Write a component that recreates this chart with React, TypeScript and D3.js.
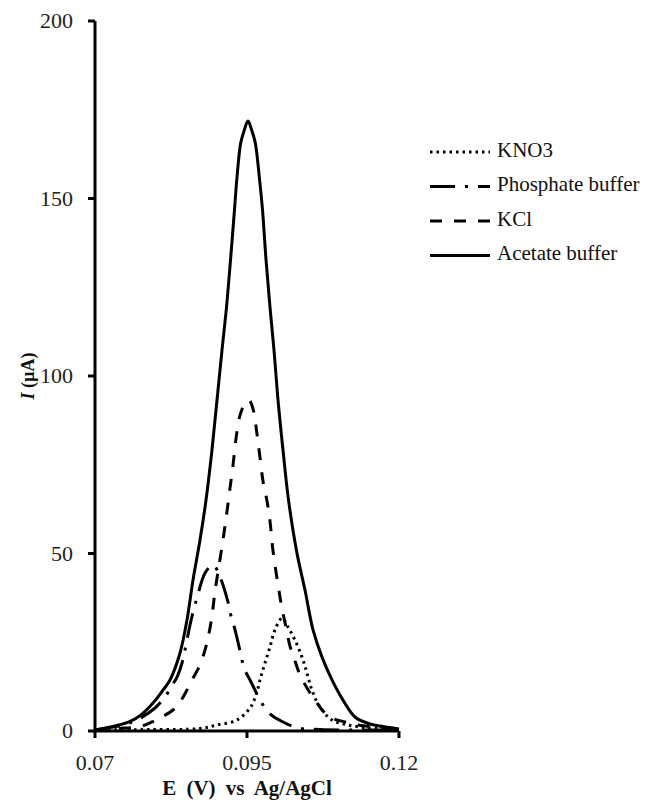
import React from 'react';
import * as d3 from 'd3';

// potential (V) and current (µA)
const kno3E = [0.07, 0.07905, 0.08727, 0.09007, 0.09336, 0.09549, 0.09648, 0.09714, 0.09796, 0.09878, 0.09961, 0.10076, 0.10174, 0.10289, 0.10405, 0.10487, 0.10569, 0.10701, 0.10898, 0.11161, 0.11523, 0.12];
const kno3I = [0.28, 0.42, 0.7, 1.69, 3.1, 6.48, 10.1, 14.4, 19.15, 23.7, 28.5, 31.8, 29.3, 25.6, 20.8, 16.3, 11.5, 6.76, 3.1, 1.69, 0.85, 0.42];

const phosE = [0.07, 0.07197, 0.07461, 0.07691, 0.07987, 0.08151, 0.0825, 0.08349, 0.08431, 0.0848, 0.08563, 0.08612, 0.08678, 0.0881, 0.08941, 0.09056, 0.09188, 0.09237, 0.09303, 0.09401, 0.09451, 0.09549, 0.09632, 0.09714, 0.09878, 0.10092, 0.10339, 0.10701, 0.11359, 0.12];
const phosI = [0.28, 0.85, 1.69, 3.1, 6.48, 9.58, 12.4, 15.2, 19.15, 22.8, 29.9, 33.5, 37.5, 44.5, 46.8, 43.4, 36.3, 32.4, 28.5, 21.4, 17.7, 14.4, 11.5, 8.7, 4.8, 2.54, 0.85, 0.42, 0.28, 0.28];

const kclE = [0.07, 0.07362, 0.0774, 0.07938, 0.08069, 0.08283, 0.08398, 0.08513, 0.08595, 0.08727, 0.08809, 0.08859, 0.08924, 0.08974, 0.09056, 0.09122, 0.09172, 0.09221, 0.0927, 0.0932, 0.09385, 0.09467, 0.09533, 0.09599, 0.09664, 0.09714, 0.09763, 0.09829, 0.09878, 0.09928, 0.10043, 0.10076, 0.10141, 0.10207, 0.10289, 0.10372, 0.10536, 0.10618, 0.1075, 0.10898, 0.11112, 0.11326, 0.11605, 0.12];
const kclI = [0.28, 0.7, 1.27, 2.54, 3.66, 5.92, 8.17, 11.55, 14.37, 18.59, 22.8, 26.2, 32.4, 39.4, 48.4, 55.8, 62.0, 68.5, 74.9, 82.5, 88.9, 92.3, 93.2, 90.7, 83.7, 77.0, 70.4, 64.8, 59.2, 50.7, 37.7, 34.4, 29.3, 23.9, 19.7, 15.8, 10.7, 8.7, 5.63, 3.66, 2.54, 1.69, 1.13, 0.56];

const acetE = [0.07, 0.07132, 0.07362, 0.07559, 0.0774, 0.07954, 0.08118, 0.08234, 0.08398, 0.08513, 0.08612, 0.08727, 0.08826, 0.08924, 0.09007, 0.09089, 0.09163, 0.09229, 0.09294, 0.09336, 0.09396, 0.09451, 0.09516, 0.09582, 0.09637, 0.09702, 0.09755, 0.09813, 0.09878, 0.09944, 0.1001, 0.10092, 0.10183, 0.10322, 0.10454, 0.10586, 0.10734, 0.10898, 0.11079, 0.11276, 0.11523, 0.11901, 0.12];
const acetI = [0.28, 0.7, 1.55, 2.6, 4.3, 7.89, 11.5, 14.37, 21.97, 31.27, 42.54, 53.8, 65.07, 79.15, 93.24, 107.3, 119.4, 132.7, 146.8, 156.1, 165.6, 169.0, 171.8, 169.0, 165.6, 156.1, 146.8, 132.7, 119.4, 107.3, 93.24, 79.15, 65.07, 50.1, 39.7, 28.5, 20.8, 14.4, 8.7, 3.94, 1.97, 0.85, 0.56];

const xTicks = [0.07, 0.095, 0.12];
const yTicks = [0, 50, 100, 150, 200];

const series = [
  { name: 'KNO3', e: kno3E, i: kno3I, dash: '2.5,4' },
  { name: 'Phosphate buffer', e: phosE, i: phosI, dash: '25,10,3,10' },
  { name: 'KCl', e: kclE, i: kclI, dash: '12,12' },
  { name: 'Acetate buffer', e: acetE, i: acetI, dash: null },
];

const serif = { fontFamily: "'Liberation Serif', 'Times New Roman', serif" };

export default function App() {
  const width = 648, height = 804;
  const x = d3.scaleLinear().domain([0.07, 0.12]).range([95, 399]);
  const y = d3.scaleLinear().domain([0, 200]).range([731, 21]);

  const line = d3.line<number[]>()
    .curve(d3.curveCatmullRom)
    .x(d => d[0])
    .y(d => d[1]);

  return (
    <svg width={width} height={height} style={{ position: 'absolute', left: 0, top: 0, background: '#fff' }}>
      {/* curves */}
      {series.map(s => {
        const pts = s.e.map((e, k) => [x(e), y(s.i[k])]);
        return (
          <path key={s.name} d={line(pts) || ''} fill="none" stroke="#000"
            strokeWidth={3} strokeDasharray={s.dash || undefined} />
        );
      })}

      {/* y axis */}
      <line x1={x(0.07)} x2={x(0.07)} y1={y(200)} y2={y(0)} stroke="#000" strokeWidth={3} />
      {yTicks.map(t => (
        <g key={t}>
          <line x1={x(0.07) - 7} x2={x(0.07)} y1={y(t)} y2={y(t)} stroke="#000" strokeWidth={3} />
          <text x={73} y={y(t) + 2} textAnchor="end" dominantBaseline="middle" fontSize={22} fill="#222" style={serif}>{t}</text>
        </g>
      ))}

      {/* x axis */}
      <line x1={x(0.07)} x2={x(0.12)} y1={y(0)} y2={y(0)} stroke="#000" strokeWidth={3} />
      {xTicks.map(t => (
        <g key={t}>
          <line x1={x(t)} x2={x(t)} y1={y(0)} y2={y(0) + 7} stroke="#000" strokeWidth={3} />
          <text x={x(t)} y={770} textAnchor="middle" fontSize={22} fill="#222" style={serif}>{t}</text>
        </g>
      ))}

      {/* axis titles */}
      <text x={x(0.095)} y={795} textAnchor="middle" fontSize={21} fontWeight="bold" wordSpacing={5} fill="#111" style={serif}>
        E (V) vs Ag/AgCl
      </text>
      <text transform={`translate(34, ${y(100)}) rotate(-90)`} textAnchor="middle" fontSize={18} fontWeight="bold" fill="#111" style={serif}>
        <tspan fontStyle="italic">I</tspan> (µA)
      </text>

      {/* legend */}
      {series.map((s, k) => {
        const ly = 152 + k * 34.5;
        return (
          <g key={s.name}>
            <line x1={430} x2={490} y1={ly} y2={ly} stroke="#000" strokeWidth={3}
              strokeDasharray={s.dash || undefined} />
            <text x={497} y={ly} dominantBaseline="middle" fontSize={21} fill="#111" style={serif}>{s.name}</text>
          </g>
        );
      })}
    </svg>
  );
}
